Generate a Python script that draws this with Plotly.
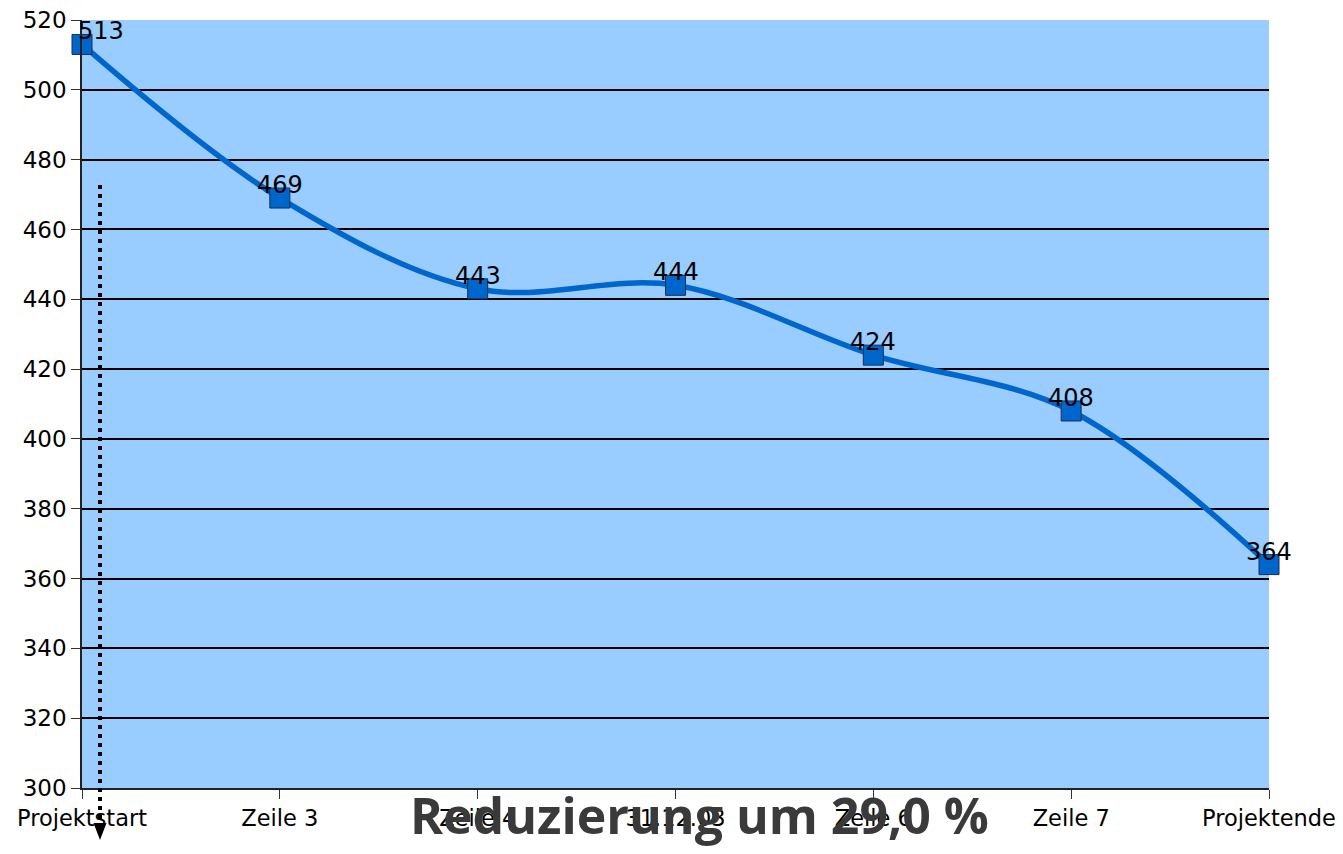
import plotly.graph_objects as go

categories = ["Projektstart", "Zeile 3", "Zeile 4", "31.12.03", "Zeile 6", "Zeile 7", "Projektende"]
values = [513, 469, 443, 444, 424, 408, 364]
y_ticks = [300, 320, 340, 360, 380, 400, 420, 440, 460, 480, 500, 520]
title_text = "Reduzierung um 29,0 %"

# page offset of the figure inside the browser page (body margin)
OX, OY = 8, 8
W, H = 1343 - OX, 854 - OY
L, T = 82 - OX, 20 - OY
R = W - (1269 - OX)
B = H - (788 - OY)
pw, ph = W - L - R, H - T - B


def px(x):
    return (x - OX - L) / pw


def py(y):
    return (H - B - (y - OY)) / ph


fig = go.Figure()
fig.add_trace(go.Scatter(
    x=categories, y=values, mode="lines+markers",
    line=dict(color="#0066cc", width=5.5, shape="spline", smoothing=1),
    marker=dict(symbol="square", size=20, color="#0066cc",
                line=dict(color="#1a2f55", width=1)),
    cliponaxis=False, showlegend=False, hoverinfo="skip",
))

for i, (c, v) in enumerate(zip(categories, values)):
    fig.add_annotation(x=c, y=v, text=str(v), showarrow=False,
                       xref="x", yref="y", yshift=13, xshift=19 if i == 0 else 0,
                       font=dict(family="DejaVu Sans", size=24, color="black"))

# dotted arrow
fig.add_shape(type="line", xref="paper", yref="paper",
              x0=px(100), x1=px(100), y0=py(185), y1=py(824),
              line=dict(color="black", width=4, dash="4px,5px"))
fig.add_shape(type="path", xref="paper", yref="paper",
              path=f"M {px(93.5)} {py(823)} L {px(106.5)} {py(823)} L {px(100)} {py(840)} Z",
              fillcolor="black", line=dict(color="black", width=0))

fig.add_annotation(x=px(700), y=py(815), xref="paper", yref="paper",
                   xanchor="center", yanchor="middle",
                   text=f"<b>{title_text}</b>", showarrow=False,
                   font=dict(family="Open Sans", size=50, color="#3a3a3a"))

fig.update_layout(
    width=W, height=H,
    margin=dict(l=L, r=R, t=T, b=B, pad=0, autoexpand=False),
    paper_bgcolor="white", plot_bgcolor="#99ccff",
    font=dict(family="DejaVu Sans", size=22, color="black"),
    xaxis=dict(type="category", range=[0, 6], showgrid=False,
               ticks="outside", ticklen=9, tickwidth=1, tickcolor="#333",
               showline=True, linecolor="#222", linewidth=2,
               tickfont=dict(size=22.5), zeroline=False,
               automargin=False, ticklabeloverflow="allow"),
    yaxis=dict(range=[300, 520], tickvals=y_ticks, showgrid=True,
               gridcolor="black", gridwidth=1.5,
               ticks="outside", ticklen=9, tickwidth=1, tickcolor="#333",
               showline=True, linecolor="#222", linewidth=1.5,
               tickfont=dict(size=23), zeroline=False,
               automargin=False, ticklabeloverflow="allow"),
)

fig.write_html("out.html")
